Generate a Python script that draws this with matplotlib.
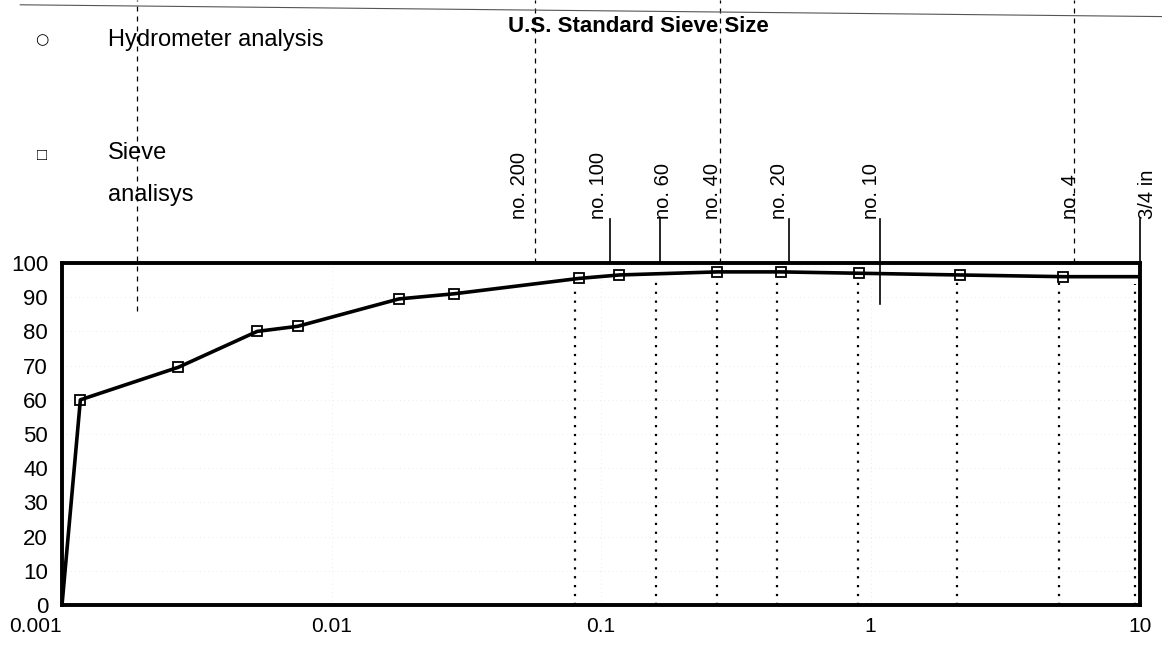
import numpy as np
import matplotlib.pyplot as plt
from matplotlib.transforms import blended_transform_factory

plt.rcParams['font.family'] = ['Liberation Sans', 'DejaVu Sans']

# grain size (mm) vs percent finer
grain_size = [0.001, 0.00117, 0.0027, 0.0053, 0.0075, 0.0178, 0.0285,
              0.083, 0.117, 0.27, 0.465, 0.91, 2.15, 5.2, 10]
pct_finer = [0, 60, 69.5, 80, 81.5, 89.5, 91,
             95.5, 96.5, 97.4, 97.4, 97, 96.5, 96, 96]

# dotted sieve lines inside the plot
sieve_lines = [0.08, 0.16, 0.27, 0.45, 0.9, 2.1, 5.0, 9.6]

# sieve labels above the plot
sieve_names = ['no. 200', 'no. 100', 'no. 60', 'no. 40', 'no. 20', 'no. 10', 'no. 4', '3/4 in']
sieve_label_x = [0.050, 0.0975, 0.17, 0.26, 0.46, 1.01, 5.5, 10.7]
leader_x = [0.108, 0.165, 0.5, 1.08, 10]
leader_bottom = [1.0, 1.0, 1.0, 0.88, 0.99]
dashed_x = [0.0019, 0.057, 0.276, 5.7]
dashed_bottom = [0.86, 1.0, 1.0, 1.0]

yticks = list(range(0, 101, 10))
xticks = [0.001, 0.01, 0.1, 1, 10]
xticklabels = ['0.001', '0.01', '0.1', '1', '10']

fig = plt.figure(figsize=(11.62, 6.67), dpi=100)
ax = fig.add_axes([62 / 1162, 62 / 667, 1078 / 1162, 342 / 667])

ax.set_xscale('log')
ax.set_xlim(0.001, 10)
ax.set_ylim(0, 100)

ax.grid(which='both', axis='x', color='#e4e4e4', ls=(0, (1, 4)), lw=0.6)
ax.grid(which='major', axis='y', color='#e4e4e4', ls=(0, (1, 4)), lw=0.6)

# dotted sieve lines run from the bottom up to the curve
tops = np.interp(np.log10(sieve_lines), np.log10(grain_size), pct_finer)
ax.vlines(sieve_lines, 0, tops - 2, color='black', ls=(0, (1, 3)), lw=1.6, zorder=2)

ax.plot(grain_size, pct_finer, color='black', lw=2.6, marker='s', ms=7,
        mfc='none', mec='black', mew=1.3, markevery=list(range(1, 14)), zorder=3)

for s in ax.spines.values():
    s.set_linewidth(2.8)

ax.set_yticks(yticks)
ax.set_xticks(xticks)
ax.set_xticklabels(xticklabels)
ax.minorticks_off()
ax.tick_params(axis='y', length=0, labelsize=16, pad=10)
ax.tick_params(axis='x', length=0, labelsize=15, pad=9)
ax.get_xticklabels()[0].set_ha('right')

trans = blended_transform_factory(ax.transData, ax.transAxes)
for name, x in zip(sieve_names, sieve_label_x):
    ax.text(x, 1.13, name, rotation=90, ha='center', va='bottom', fontsize=14.5,
            transform=trans, clip_on=False)
for x, b in zip(leader_x, leader_bottom):
    ax.plot([x, x], [b, 1.13], color='black', lw=1.2, transform=trans, clip_on=False)
for x, b in zip(dashed_x, dashed_bottom):
    ax.plot([x, x], [b, 1.77], color='black', lw=0.9, ls=(0, (4, 4)),
            transform=trans, clip_on=False)
ax.plot([0.0007, 14], [1.755, 1.72], color='#555555', lw=0.8, transform=trans, clip_on=False)

fig.text(638 / 1162, 1 - 26 / 667, 'U.S. Standard Sieve Size', ha='center', va='center',
         fontsize=16, fontweight='bold')

fig.text(42 / 1162, 1 - 40 / 667, '\u25cb', ha='center', va='center', fontsize=11,
         family=['DejaVu Sans'])
fig.text(108 / 1162, 1 - 40 / 667, 'Hydrometer analysis', ha='left', va='center', fontsize=17)
fig.text(42 / 1162, 1 - 155 / 667, '\u25a1', ha='center', va='center', fontsize=12)
fig.text(108 / 1162, 1 - 153 / 667, 'Sieve', ha='left', va='center', fontsize=17)
fig.text(108 / 1162, 1 - 195 / 667, 'analisys', ha='left', va='center', fontsize=17)

fig.savefig('out.png', dpi=100, facecolor='white')
